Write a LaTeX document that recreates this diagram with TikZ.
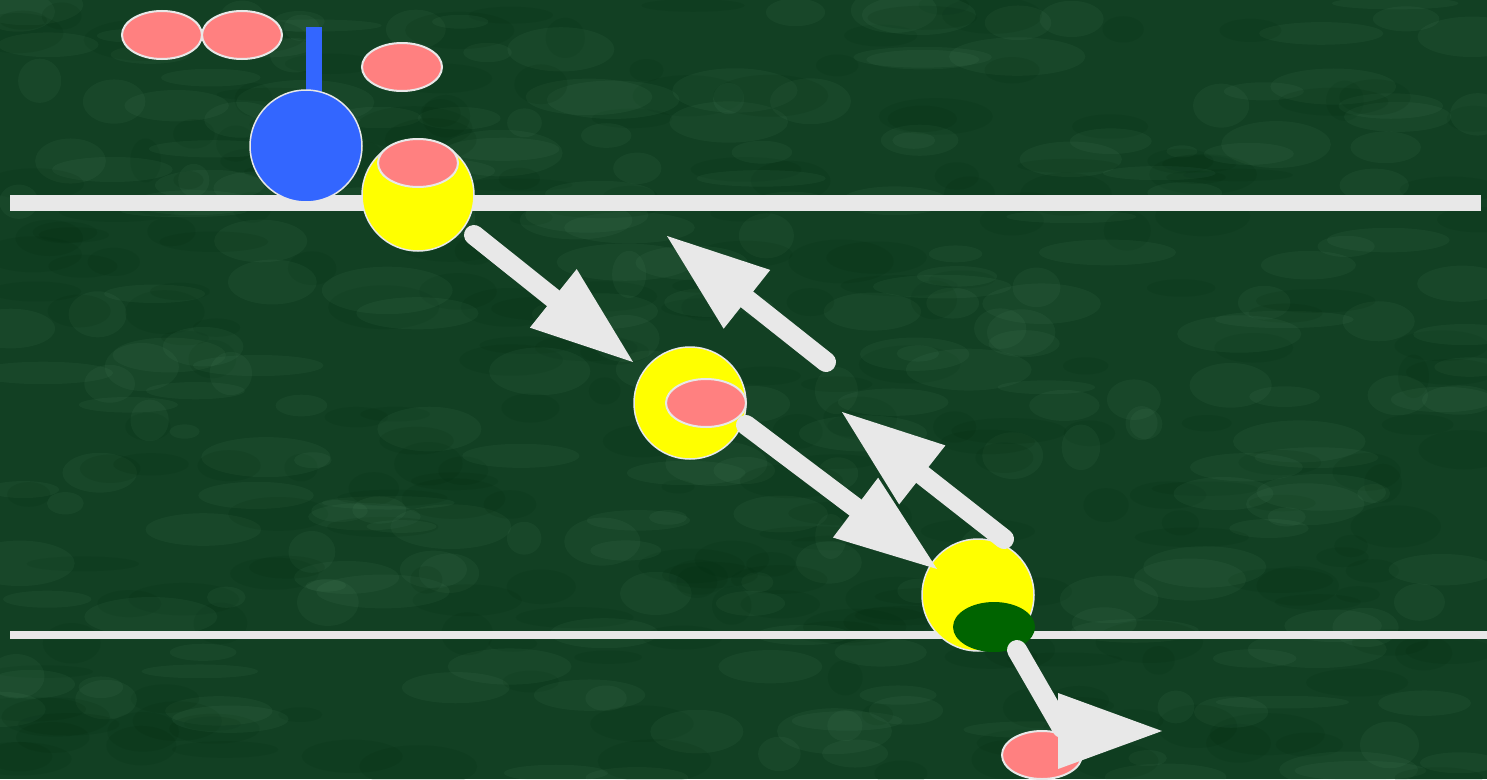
\documentclass[tikz,border=0pt]{standalone}
\usepackage{tikz}
\usetikzlibrary{positioning,arrows.meta,shapes.geometric}
\definecolor{bggreen}{RGB}{18,64,35}
\definecolor{haze}{RGB}{110,170,130}
\definecolor{deep}{RGB}{0,40,12}
\definecolor{rimgray}{RGB}{232,232,232}
\definecolor{salmon}{RGB}{255,128,128}
\definecolor{royal}{RGB}{51,102,255}
\definecolor{lemon}{RGB}{255,255,0}
\definecolor{leaf}{RGB}{0,100,0}

\begin{document}
\begin{tikzpicture}[x=1pt, y=-1pt, >={Triangle[length=102pt, width=75pt, line width=0pt]}, ball/.style = {circle, draw=rimgray, line width=1.5pt, minimum size=112pt, inner sep=0pt}, blob/.style = {ellipse, draw=rimgray, line width=2pt, fill=salmon, minimum width=80pt, minimum height=48pt, inner sep=0pt}, flow/.style = {->, color=rimgray, line width=20pt, line cap=round}, mist/.style = {fill=haze, opacity=0.07}, shade/.style = {fill=deep, opacity=0.12}]

\useasboundingbox (0,0) rectangle (1487,779);

% background
\fill[bggreen] (0,0) rectangle (1487,779);
\pgfmathsetseed{11}
\foreach \i in {1,...,260} {
  \fill[mist] (rnd*1487, rnd*779) ellipse ({15+rnd*55} and {6+rnd*18});
  \fill[shade] (rnd*1487, rnd*779) ellipse ({15+rnd*45} and {6+rnd*16});
}

% membranes
\draw[rimgray, line width=16pt] (10,203) -- (1481,203);
\draw[rimgray, line width=8pt] (10,635) -- (1487,635);

% receptor
\node[fill=royal, minimum width=16pt, minimum height=73pt, inner sep=0pt, anchor=north] (stalk) at (314,27) {};
\node[ball, fill=royal] (hub) at (306,146) {};

% free ligands
\node[blob] (lig1) at (162,35) {};
\node[blob] (lig2) at (242,35) {};
\node[blob] (lig3) at (402,67) {};

% carriers
\node[ball, fill=lemon] (car1) at (418,195) {};
\node[blob] (load1) at (418,163) {};
\node[ball, fill=lemon] (car2) at (690,403) {};
\node[blob] (load2) at (706,403) {};
\node[ball, fill=lemon] (car3) at (978,595) {};
\node[ellipse, fill=leaf, minimum width=82pt, minimum height=50pt, inner sep=0pt] (load3) at (994,627) {};

\node[blob] (release) at (1042,755) {};

% arrow ends
\coordinate (a1s) at (474,235);
\coordinate (a1e) at (633,362);
\coordinate (a2s) at (826,362);
\coordinate (a2e) at (667,236);
\coordinate (a3s) at (746,425);
\coordinate (a3e) at (937,569);
\coordinate (a4s) at (1004,539);
\coordinate (a4e) at (842,412);
\coordinate (a5s) at (1017,650);
\coordinate (a5e) at (1062,728);

\draw[flow] (a1s) -- (a1e);
\draw[flow] (a2s) -- (a2e);
\draw[flow] (a3s) -- (a3e);
\draw[flow] (a4s) -- (a4e);
\draw[rimgray, line width=20pt, line cap=round] (a5s) -- (a5e);
\fill[rimgray] (1058,693) -- (1162,731) -- (1058,769) -- cycle;
\end{tikzpicture}
\end{document}
